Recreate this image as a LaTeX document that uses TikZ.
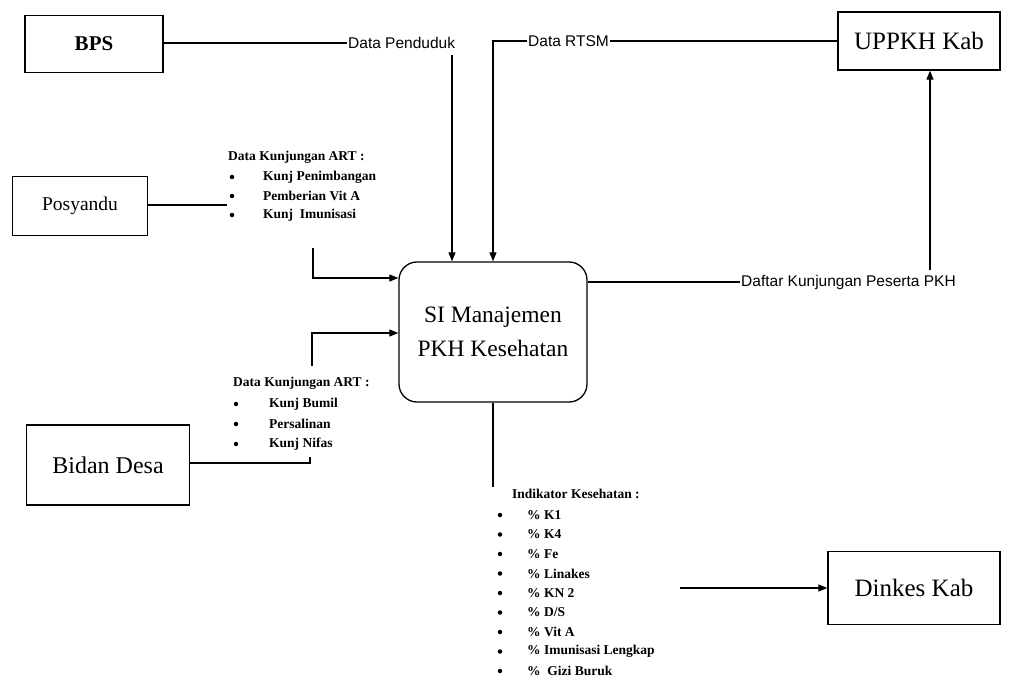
\documentclass[tikz,border=0pt]{standalone}
\usepackage{fontspec}
\setmainfont{Liberation Serif}
\newfontfamily\sansf{Liberation Sans}
\usetikzlibrary{arrows.meta,calc}
\begin{document}
\begin{tikzpicture}[x=1pt,y=-1pt,
  box/.style={draw,line width=1.3pt,inner sep=0pt,font=\fontsize{20}{24}\selectfont},
  flow/.style={line width=1.1pt},
  arr/.style={flow,-{Triangle[length=9pt,width=7pt]}},
  slab/.style={inner sep=1pt,font=\sansf\fontsize{15.5}{18}\selectfont},
  ltxt/.style={inner sep=0pt,anchor=west,font=\bfseries\fontsize{13.5}{15}\selectfont},
  bul/.style={circle,fill,inner sep=0pt,minimum size=4.5pt}]
\useasboundingbox (0,0) rectangle (1009,698);
% boxes
\node[box,minimum width=138pt,minimum height=57pt,font=\bfseries\fontsize{21}{24}\selectfont] (bps) at (94,44) {BPS};
\node[box,minimum width=162pt,minimum height=58pt,font=\fontsize{25}{28}\selectfont] (uppkh) at (919,41) {UPPKH Kab};
\node[box,minimum width=135pt,minimum height=59pt,font=\fontsize{19.5}{24}\selectfont] (posy) at (80,206) {Posyandu};
\node[box,minimum width=163pt,minimum height=80pt,font=\fontsize{24}{28}\selectfont] (bidan) at (108,465) {Bidan Desa};
\node[box,minimum width=172pt,minimum height=73pt,font=\fontsize{25}{28}\selectfont] (dinkes) at (914,588) {Dinkes Kab};
\node[box,rounded corners=18pt,minimum width=188pt,minimum height=140pt,align=center,font=\fontsize{23.5}{34}\selectfont] (si) at (493,332) {SI Manajemen\\PKH Kesehatan};
% sans labels
\node[slab,anchor=west] (lpend) at (347,43) {Data Penduduk};
\node[slab,anchor=west] (lrtsm) at (527,41) {Data RTSM};
\node[slab,anchor=west] (ldaftar) at (740,282) {Daftar Kunjungan Peserta PKH};
% list 1
\node[ltxt] (t1) at (228,157) {Data Kunjungan ART :};
\foreach \i/\txt/\yy in {1/{Kunj Penimbangan}/177,2/{Pemberian Vit A}/196,3/{Kunj\ \ Imunisasi}/215}{
  \node[bul] (b1\i) at (232,\yy) {};
  \node[ltxt] (a1\i) at (263,\yy) {\txt};
}
% list 2
\node[ltxt] (t2) at (233,383) {Data Kunjungan ART :};
\foreach \i/\txt/\yy in {1/{Kunj Bumil}/404,2/{Persalinan}/424,3/{Kunj Nifas}/444}{
  \node[bul] (b2\i) at (236,\yy) {};
  \node[ltxt] (a2\i) at (269,\yy) {\txt};
}
% list 3
\node[ltxt] (t3) at (512,494) {Indikator Kesehatan :};
\foreach \i/\txt/\yy in {1/{\% K1}/515,2/{\% K4}/534.5,3/{\% Fe}/554,4/{\% Linakes}/573.5,5/{\% KN 2}/593,6/{\% D/S}/612.5,7/{\% Vit A}/632,8/{\% Imunisasi Lengkap}/651.5,9/{\%\ \ Gizi Buruk}/671}{
  \node[bul] (b3\i) at (500,\yy) {};
  \node[ltxt] (a3\i) at (527,\yy) {\txt};
}
% coordinates
\coordinate (pend) at (452,55);
\coordinate (p1) at (227,205);
\coordinate (l1) at (313,248);
\coordinate (l1b) at (313,278);
\coordinate (l2) at (312,366);
\coordinate (l2b) at (312,333);
\coordinate (bd) at (310,463);
\coordinate (bd2) at (310,457);
\coordinate (sdown) at (493,487);
\coordinate (ind) at (680,588);
\coordinate (up) at (930,270);
% connectors
\draw[flow] (bps.east |- lpend.west) -- (lpend.west);
\draw[arr] (pend) -- (pend |- si.north);
\draw[arr] (lrtsm.west) -| (si.north);
\draw[flow] (lrtsm.east) -- (lrtsm.east -| uppkh.west);
\draw[flow] (si.east |- ldaftar.west) -- (ldaftar.west);
\draw[arr] (up) -- (up |- uppkh.south);
\draw[flow] (posy.east |- p1) -- (p1);
\draw[arr] (l1) -- (l1b) -- (l1b -| si.west);
\draw[arr] (l2) -- (l2b) -- (l2b -| si.west);
\draw[flow] (bidan.east |- bd) -- (bd) -- (bd2);
\draw[flow] (si.south) -- (sdown);
\draw[arr] (ind) -- (ind -| dinkes.west);
\end{tikzpicture}
\end{document}
